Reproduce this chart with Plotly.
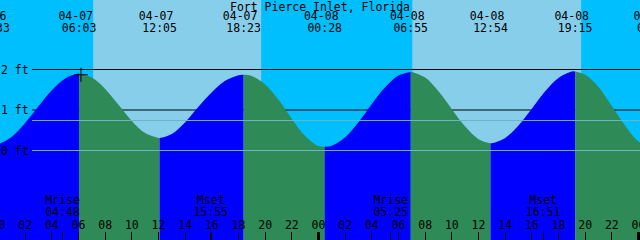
import plotly.graph_objects as go
from datetime import datetime

# ---------------- data ----------------
station = "Fort Pierce Inlet, Florida"

# tide extremes (local time, height in feet)
extreme_times = ["04-06 23:33", "04-07 06:03", "04-07 12:05", "04-07 18:23",
                 "04-08 00:28", "04-08 06:55", "04-08 12:54", "04-08 19:15",
                 "04-09 01:11"]
extreme_ft = [0.14, 1.90, 0.31, 1.87, 0.09, 1.94, 0.18, 1.95, 0.03]

# tide height read at every hour from 04-07 00:00
curve_hours = list(range(0, 49))
curve_ft = [0.16, 0.34, 0.68, 1.09, 1.49, 1.78, 1.90, 1.80, 1.52, 1.13,
            0.73, 0.43, 0.31, 0.41, 0.70, 1.08, 1.44, 1.72, 1.86, 1.84,
            1.63, 1.25, 0.78, 0.36, 0.11, 0.12, 0.33, 0.70, 1.15, 1.56,
            1.85, 1.94, 1.80, 1.46, 1.02, 0.59, 0.28, 0.18, 0.31, 0.62,
            1.03, 1.46, 1.79, 1.95, 1.87, 1.57, 1.10, 0.61, 0.22]

sunrise_times = ["04-07 07:06", "04-08 07:02"]
sunset_times = ["04-07 19:42", "04-08 19:42"]

moon_names = ["Mrise", "Mset", "Mrise", "Mset"]
moon_times = ["04-07 04:48", "04-07 15:55", "04-08 05:25", "04-08 16:51"]

depth_levels = [0, 1, 2]
depth_labels = ["0 ft", "1 ft", "2 ft"]
mid_level = 0.74

hour_ticks = list(range(0, 50, 2))
hour_labels = ["%02d" % (h % 24) for h in hour_ticks]
midnight_ticks = [24, 48]

mark_time = "04-07 06:11"
mark_ft = 1.87

# ---------------- helpers ----------------
BASE = datetime(2000, 4, 7)


def hrs(s):
    d = datetime.strptime("2000-" + s, "%Y-%m-%d %H:%M")
    return (d - BASE).total_seconds() / 3600.0


X0, X1 = 0.1125, 48.1125
Y0, Y1 = -2.2099, 3.7160

C_NIGHT = "#00BFFF"
C_DAY = "#87CEEB"
C_RISE = "#0000FF"
C_FALL = "#2E8B57"
C_MID = "#6CB4C4"
FONT = "DejaVu Sans Mono"
FS = 11.5

fig = go.Figure()

ext_h = [hrs(t) for t in extreme_times]

# water segments
for i in range(len(ext_h) - 1):
    a, b = ext_h[i], ext_h[i + 1]
    xs = [a] + [h for h in curve_hours if a < h < b] + [b]
    ys = [extreme_ft[i]] + [curve_ft[k] for k, h in enumerate(curve_hours) if a < h < b] + [extreme_ft[i + 1]]
    col = C_RISE if extreme_ft[i + 1] > extreme_ft[i] else C_FALL
    fig.add_trace(go.Scatter(x=[a, b], y=[Y0, Y0], mode="lines",
                             line=dict(width=0), hoverinfo="skip", showlegend=False))
    fig.add_trace(go.Scatter(x=xs, y=ys, mode="lines", fill="tonexty", fillcolor=col,
                             line=dict(width=0, shape="spline", smoothing=1),
                             hoverinfo="skip", showlegend=False))

# mark
fig.add_trace(go.Scatter(x=[hrs(mark_time)], y=[mark_ft], mode="markers",
                         marker=dict(symbol="cross-thin", size=10,
                                     line=dict(color="black", width=1)),
                         hoverinfo="skip", showlegend=False))

txt = dict(family=FONT, size=FS, color="black")

# header labels
fig.add_trace(go.Scatter(x=ext_h, y=[3.288] * len(ext_h), mode="text",
                         text=[t.split(" ")[0] + "\u00a0" for t in extreme_times],
                         textposition="middle center", textfont=txt,
                         hoverinfo="skip", showlegend=False))
fig.add_trace(go.Scatter(x=ext_h, y=[2.988] * len(ext_h), mode="text",
                         text=[t.split(" ")[1] for t in extreme_times],
                         textposition="middle center", textfont=txt,
                         hoverinfo="skip", showlegend=False))

# moon labels
moon_h = [hrs(t) for t in moon_times]
fig.add_trace(go.Scatter(x=moon_h, y=[-1.26] * len(moon_h), mode="text",
                         text=moon_names, textposition="middle center", textfont=txt,
                         hoverinfo="skip", showlegend=False))
fig.add_trace(go.Scatter(x=moon_h, y=[-1.556] * len(moon_h), mode="text",
                         text=[t.split(" ")[1] for t in moon_times],
                         textposition="middle center", textfont=txt,
                         hoverinfo="skip", showlegend=False))

# hour tick labels
fig.add_trace(go.Scatter(x=hour_ticks, y=[-1.859] * len(hour_ticks), mode="text",
                         text=hour_labels, textposition="middle center", textfont=txt,
                         hoverinfo="skip", showlegend=False))

# dummy traces for overlay axes
fig.add_trace(go.Scatter(x=[X0], y=[Y0], xaxis="x2", mode="markers",
                         marker=dict(opacity=0), hoverinfo="skip", showlegend=False))
fig.add_trace(go.Scatter(x=[X0], y=[Y0], xaxis="x3", mode="markers",
                         marker=dict(opacity=0), hoverinfo="skip", showlegend=False))

shapes = []
for sr, ss in zip(sunrise_times, sunset_times):
    shapes.append(dict(type="rect", xref="x", yref="paper", x0=hrs(sr), x1=hrs(ss),
                       y0=0, y1=1, fillcolor=C_DAY, line=dict(width=0), layer="below"))
for lv in depth_levels:
    shapes.append(dict(type="line", xref="paper", yref="y", x0=32 / 640, x1=1,
                       y0=lv, y1=lv, line=dict(color="black", width=1), layer="below"))
for lv, c in [(0, C_MID), (mid_level, C_MID)]:
    shapes.append(dict(type="line", xref="paper", yref="y", x0=32 / 640, x1=1,
                       y0=lv, y1=lv, line=dict(color=c, width=1), layer="above"))

annotations = [dict(text=station, xref="paper", yref="paper", x=0.5, y=1 - 6.5 / 240,
                    xanchor="center", yanchor="middle", showarrow=False, font=txt)]
for lv, lab in zip(depth_levels, depth_labels):
    annotations.append(dict(text=lab, xref="paper", yref="y", x=0, y=lv, xanchor="left",
                            yanchor="middle", showarrow=False, font=txt, borderpad=0))

axis_common = dict(range=[X0, X1], showgrid=False, zeroline=False, showline=False,
                   ticks="inside", ticklen=8, tickcolor="black", showticklabels=False,
                   tickmode="array")

fig.update_layout(
    width=640, height=240, margin=dict(l=0, r=0, t=0, b=0),
    paper_bgcolor=C_NIGHT, plot_bgcolor=C_NIGHT,
    xaxis=dict(**axis_common, tickvals=hour_ticks, tickwidth=1),
    xaxis2=dict(**axis_common, tickvals=midnight_ticks, tickwidth=3,
                overlaying="x", anchor="y", side="bottom"),
    xaxis3=dict(**axis_common, tickvals=moon_h, tickwidth=1,
                overlaying="x", anchor="y", side="bottom"),
    yaxis=dict(range=[Y0, Y1], visible=False, showgrid=False, zeroline=False),
    shapes=shapes, annotations=annotations, showlegend=False,
)

fig.write_html("out.html")
